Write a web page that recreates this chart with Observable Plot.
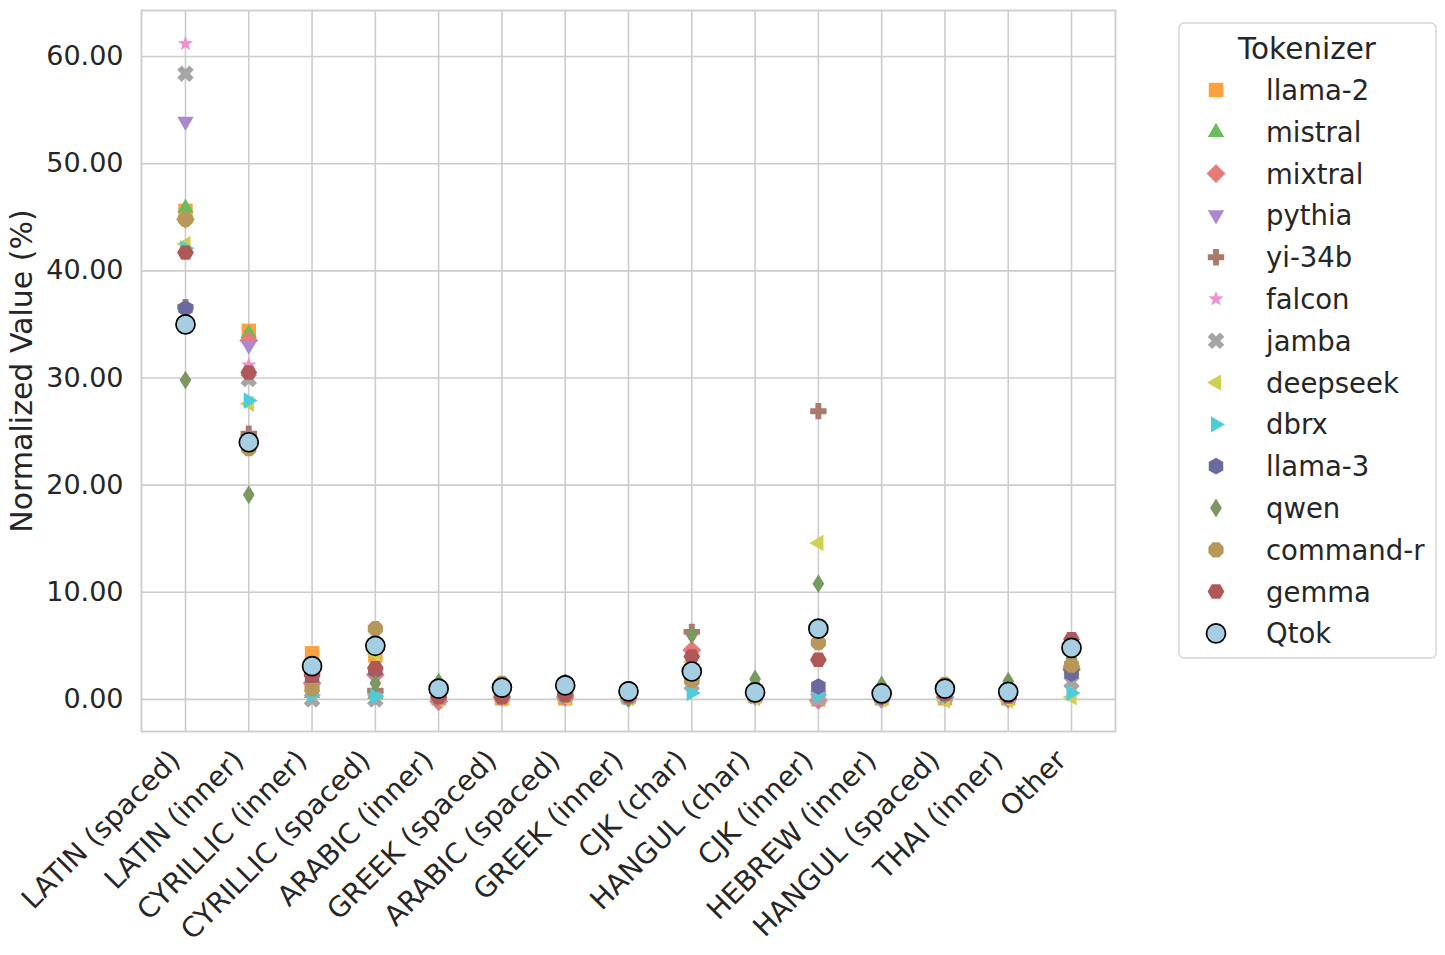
<!DOCTYPE html>
<html><head><meta charset="utf-8">
<script src="https://cdn.jsdelivr.net/npm/d3@7"></script>
<script src="https://cdn.jsdelivr.net/npm/@observablehq/plot@0.6"></script>
<style>
body{margin:0;background:#fff;font-family:"DejaVu Sans",sans-serif;}
#wrap{position:relative;width:1445px;height:955px;overflow:hidden;background:#fff;}
#chart{position:absolute;left:0;top:0;}
#legend{position:absolute;left:1178px;top:22px;}
</style>
</head><body><div id="wrap"><div id="chart"></div><div id="legend"></div></div>
<script>
const categories = ["LATIN (spaced)","LATIN (inner)","CYRILLIC (inner)","CYRILLIC (spaced)","ARABIC (inner)","GREEK (spaced)","ARABIC (spaced)","GREEK (inner)","CJK (char)","HANGUL (char)","CJK (inner)","HEBREW (inner)","HANGUL (spaced)","THAI (inner)","Other"];
const tokenizers = ["llama-2","mistral","mixtral","pythia","yi-34b","falcon","jamba","deepseek","dbrx","llama-3","qwen","command-r","gemma","Qtok"];
const colors = ["#ffa040","#6abd5a","#e77a7a","#ac88d0","#ac7a6c","#ee90d2","#a5a5a5","#cfcf52","#50ccd8","#6a6a9e","#7a9960","#b8985a","#b05858","#a6cee3"];
const llama2   = [45.6,34.4,4.3,4.1,0.1,0.1,0.1,0.2,2.2,0.3,0.0,0.1,0.1,0.1,2.9];
const mistral  = [45.9,34.2,0.6,0.5,1.7,0.3,0.4,0.3,2.4,1.5,0.1,1.4,0.3,1.5,2.8];
const mixtral  = [44.8,33.5,1.5,2.3,-0.2,0.2,0.2,0.1,4.6,0.3,-0.1,0.0,0.2,0.0,2.8];
const pythia   = [53.9,33.0,0.4,0.3,0.2,0.2,0.5,0.2,1.1,0.2,0.3,0.1,0.2,0.2,2.3];
const yi34b    = [36.6,24.8,2.4,0.8,0.2,0.6,0.6,0.4,6.3,0.5,26.9,0.3,0.6,0.4,2.9];
const falcon   = [61.2,31.2,0.3,0.2,0.1,0.2,0.2,0.1,1.9,0.2,-0.1,0.1,0.2,0.1,1.2];
const jamba    = [58.4,29.9,0.0,0.0,0.2,0.3,0.3,0.2,1.4,0.3,0.1,0.2,0.3,0.2,1.6];
const deepseek = [42.5,27.6,0.8,4.2,0.0,0.0,0.1,0.1,3.5,0.1,14.6,0.0,-0.1,-0.1,0.2];
const dbrx     = [42.1,27.9,0.4,0.3,0.2,0.3,0.4,0.2,0.6,0.3,0.4,0.2,0.3,0.2,0.6];
const llama3   = [36.5,24.2,2.0,2.7,0.3,0.5,1.6,0.6,2.9,0.4,1.2,0.2,0.5,0.4,2.4];
const qwen     = [29.8,19.1,1.1,1.5,1.5,0.4,0.5,0.1,6.0,1.9,10.8,1.3,0.4,1.7,3.8];
const commandR = [44.8,23.4,1.0,6.6,0.3,1.5,0.4,1.0,1.8,0.4,5.3,0.3,1.4,0.3,3.2];
const gemma    = [41.7,30.5,2.2,2.9,0.2,0.2,0.4,0.3,4.0,0.4,3.7,0.3,0.5,0.3,5.6];
const qtok     = [35.0,24.0,3.1,5.0,1.0,1.1,1.3,0.75,2.6,0.65,6.6,0.55,1.0,0.7,4.8];
const yTicks = [0,10,20,30,40,50,60];

const seriesValues = [llama2,mistral,mixtral,pythia,yi34b,falcon,jamba,deepseek,dbrx,llama3,qwen,commandR,gemma,qtok];

// marker shapes (unit polygons)
function poly(pts){return {draw(ctx,size){const r=Math.sqrt(size/Math.PI);pts.forEach(([x,y],i)=>i?ctx.lineTo(x*r,y*r):ctx.moveTo(x*r,y*r));ctx.closePath();}};}
function ngon(n,rad,start){const p=[];for(let i=0;i<n;i++){const a=start+i*2*Math.PI/n;p.push([rad*Math.cos(a),rad*Math.sin(a)]);}return p;}
function star(){const p=[];for(let i=0;i<10;i++){const a=-Math.PI/2+i*Math.PI/5;const rr=i%2?0.4:0.98;p.push([rr*Math.cos(a),rr*Math.sin(a)]);}return p;}
const w=0.36;
const plusPts=[[-w,-1],[w,-1],[w,-w],[1,-w],[1,w],[w,w],[w,1],[-w,1],[-w,w],[-1,w],[-1,-w],[-w,-w]];
const xPts=plusPts.map(([x,y])=>{const c=Math.SQRT1_2;return [(x-y)*c*1.05,(x+y)*c*1.05];});
const circle={draw(ctx,size){const r=Math.sqrt(size/Math.PI);ctx.moveTo(r,0);ctx.arc(0,0,r,0,2*Math.PI);}};
const symbols=[
  poly([[-0.88,-0.88],[0.88,-0.88],[0.88,0.88],[-0.88,0.88]]),
  poly([[0,-1.1],[1.0,0.62],[-1.0,0.62]]),
  poly([[0,-1.15],[1.15,0],[0,1.15],[-1.15,0]]),
  poly([[0,1.1],[1.0,-0.62],[-1.0,-0.62]]),
  poly(plusPts),
  poly(star()),
  poly(xPts),
  poly([[-1.1,0],[0.62,-1.0],[0.62,1.0]]),
  poly([[1.1,0],[-0.62,-1.0],[-0.62,1.0]]),
  poly(ngon(6,1.02,-Math.PI/2)),
  poly([[0,-1.15],[0.72,0],[0,1.15],[-0.72,0]]),
  poly(ngon(8,1.0,Math.PI/8)),
  poly(ngon(6,1.02,0)),
  circle
];
const R = 8.2, RQ = 9.5;

const rows=[];
tokenizers.forEach((t,ti)=>{ if(t==="Qtok") return; categories.forEach((c,ci)=>rows.push({tokenizer:t,category:c,value:seriesValues[ti][ci]})); });
const qrows=categories.map((c,ci)=>({tokenizer:"Qtok",category:c,value:qtok[ci]}));

const chart=Plot.plot({
  width:1130,height:955,marginLeft:141,marginRight:15,marginTop:10,marginBottom:224,
  style:{fontFamily:"DejaVu Sans",fontSize:"27px",color:"#262626",background:"white"},
  x:{type:"point",domain:categories,padding:0.695,round:false},
  y:{domain:[-3.0,64.3]},
  symbol:{domain:tokenizers,range:symbols},
  color:{domain:tokenizers,range:colors},
  marks:[
    Plot.gridX({stroke:"#cccccc",strokeOpacity:1,strokeWidth:1.6}),
    Plot.gridY(yTicks,{stroke:"#cccccc",strokeOpacity:1,strokeWidth:1.6}),
    Plot.frame({stroke:"#cccccc",strokeWidth:1.8}),
    Plot.axisY(yTicks,{tickSize:0,tickPadding:18,tickFormat:d3.format(".2f"),label:null}),
    Plot.axisX({tickSize:0,tickPadding:12,tickRotate:-45,label:null,fontSize:28,dx:-10,dy:12}),
    Plot.text(["Normalized Value (%)"],{frameAnchor:"left",textAnchor:"middle",dx:-119,rotate:-90,fontSize:30,fill:"#262626"}),
    Plot.dot(rows,{x:"category",y:"value",symbol:"tokenizer",fill:"tokenizer",r:R}),
    Plot.dot(qrows,{x:"category",y:"value",r:RQ,fill:"#a6cee3",stroke:"#000",strokeWidth:1.7})
  ]
});
document.getElementById("chart").appendChild(chart);

// legend
const LW=258,LH=636;
const svg=d3.select("#legend").append("svg").attr("width",LW+2).attr("height",LH+2)
  .style("font-family","DejaVu Sans");
svg.append("rect").attr("x",1).attr("y",1).attr("width",LW-1).attr("height",LH-1).attr("rx",5)
  .attr("fill","white").attr("stroke","#d6d6d6").attr("stroke-width",1.5);
svg.append("text").attr("x",LW/2).attr("y",26).attr("dy","0.36em").attr("text-anchor","middle")
  .attr("font-size",29.5).attr("fill","#262626").text("Tokenizer");
tokenizers.forEach((t,i)=>{
  const y=68+i*41.8;
  const isQ=t==="Qtok";
  const r=isQ?RQ:R;
  svg.append("path").attr("transform",`translate(38,${y})`)
    .attr("d",d3.symbol(symbols[i],Math.PI*r*r)())
    .attr("fill",colors[i]).attr("stroke",isQ?"#000":"none").attr("stroke-width",1.7);
  svg.append("text").attr("x",88).attr("y",y).attr("dy","0.36em").attr("font-size",27.5)
    .attr("fill","#262626").text(t);
});
</script>
</body></html>
